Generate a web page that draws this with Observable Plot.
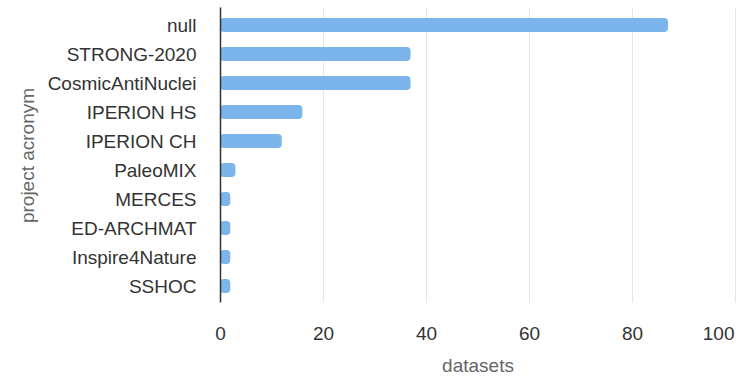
<!DOCTYPE html>
<html>
<head>
<meta charset="utf-8">
<script src="https://cdn.jsdelivr.net/npm/d3@7"></script>
<script src="https://cdn.jsdelivr.net/npm/@observablehq/plot@0.6"></script>
<style>
  html, body { margin: 0; padding: 0; background: #fff; }
  #chart svg { display: block; }
</style>
</head>
<body>
<div id="chart"></div>
<script>
const projects = ["null", "STRONG-2020", "CosmicAntiNuclei", "IPERION HS", "IPERION CH", "PaleoMIX", "MERCES", "ED-ARCHMAT", "Inspire4Nature", "SSHOC"];
const datasets = [87, 37, 37, 16, 12, 3, 2, 2, 2, 2];
const xTicks = [0, 20, 40, 60, 80, 100];
const xTitle = "datasets";
const yTitle = "project acronym";

const data = projects.map((p, i) => ({project: p, datasets: datasets[i]}));

const font = "'Liberation Sans', Arial, Helvetica, sans-serif";
const lastTick = xTicks[xTicks.length - 1];

const chart = Plot.plot({
  width: 736,
  height: 377,
  marginLeft: 220,
  marginRight: 1,
  marginTop: 7.5,
  marginBottom: 74.5,
  style: {fontFamily: font, fontSize: "19px", color: "#333", background: "#fff", overflow: "visible"},
  x: {domain: [0, 100], ticks: xTicks, label: null},
  y: {domain: projects, paddingInner: 0.527, paddingOuter: 0.236, label: null},
  marks: [
    Plot.gridX(xTicks, {stroke: "#e6e6e6", strokeOpacity: 1, strokeWidth: 1}),
    Plot.axisX(xTicks.slice(0, -1), {tickSize: 0, tickPadding: 23, fontSize: 19, fill: "#333", label: null}),
    Plot.axisX([lastTick], {tickSize: 0, tickPadding: 23, fontSize: 19, fill: "#333", textAnchor: "end", dx: -1, label: null}),
    Plot.axisY({tickSize: 0, tickPadding: 24, fontSize: 19, fill: "#333", label: null}),
    Plot.barX(data, {y: "project", x: "datasets", fill: "#7cb5ec", rx: 4}),
    Plot.ruleX([0], {stroke: "#333", strokeWidth: 1.5}),
    Plot.text([xTitle], {frameAnchor: "bottom", dy: 63, lineAnchor: "middle", fill: "#666", fontSize: 19}),
    Plot.text([yTitle], {frameAnchor: "left", dx: -193, rotate: -90, lineAnchor: "middle", textAnchor: "middle", fill: "#666", fontSize: 19})
  ]
});
document.getElementById("chart").appendChild(chart);
</script>
</body>
</html>
